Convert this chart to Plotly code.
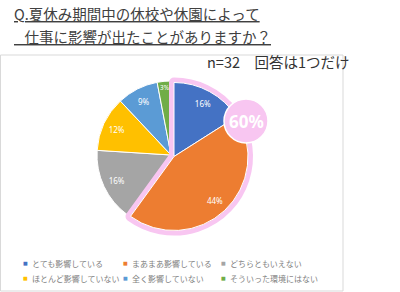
import plotly.graph_objects as go

labels = ["とても影響している", "まあまあ影響している", "どちらともいえない",
          "ほとんど影響していない", "全く影響していない", "そういった環境にはない"]
values = [16, 44, 16, 12, 9, 3]
colors = ["#4472C4", "#ED7D31", "#A5A5A5", "#FFC000", "#5B9BD5", "#70AD47"]
highlight_values = [60, 40]
highlight_label = "60%"
title_lines = ["Q.夏休み期間中の休校や休園によって", "\u2002\u00a0仕事に影響が出たことがありますか？"]
subtitle = "n=32　回答は1つだけ"

W, H = 400, 292
PINK = "#F8C6F1"
CLEAR = "rgba(0,0,0,0)"
N_GROUP = 2

def dom(cx, cy, r):
    return dict(x=[(cx - r) / W, (cx + r) / W], y=[(H - cy - r) / H, (H - cy + r) / H])

base = dom(171, 155, 74)
shifted = dom(174, 156.5, 74)

fig = go.Figure()

# full pie (unshifted)
fig.add_trace(go.Pie(
    labels=labels, values=values, sort=False, direction="clockwise", rotation=0,
    marker=dict(colors=colors, line=dict(color="white", width=1)),
    textinfo="none", domain=base, showlegend=False, hoverinfo="label+value",
))
# pink highlight behind the exploded group
fig.add_trace(go.Pie(
    labels=["highlight", "rest"], values=highlight_values, sort=False, direction="clockwise",
    marker=dict(colors=[PINK, CLEAR], line=dict(color=[PINK, CLEAR], width=[10, 0])),
    textinfo="none", domain=shifted, showlegend=False, hoverinfo="skip",
))
# exploded group (first two slices) on top
grp_colors = [c if i < N_GROUP else CLEAR for i, c in enumerate(colors)]
grp_lines = ["white" if i < N_GROUP else CLEAR for i in range(len(colors))]
fig.add_trace(go.Pie(
    labels=["g" + str(i) for i in range(len(labels))], values=values, sort=False,
    direction="clockwise",
    marker=dict(colors=grp_colors, line=dict(color=grp_lines, width=1)),
    textinfo="none", domain=shifted, showlegend=False, hoverinfo="skip",
))
# percentage labels placed in an outer ring (hole) so they sit near the rim
for k, (part, d) in enumerate(((range(0, N_GROUP), shifted), (range(N_GROUP, len(values)), base))):
    texts = [f"{v}%" if i in part else "" for i, v in enumerate(values)]
    fig.add_trace(go.Pie(
        labels=[f"t{k}_{i}" for i in range(len(labels))], values=values, sort=False,
        direction="clockwise", hole=0.62, marker=dict(colors=[CLEAR] * len(values)),
        text=texts, textinfo="text", textposition="inside", insidetextorientation="horizontal",
        insidetextfont=dict(size=8, color="white", family="Noto Sans"),
        domain=d, showlegend=False, hoverinfo="skip",
    ))

# legend built as text entries (3 columns x 2 rows)
legend_cols = [25, 125, 223]
legend_rows = [263, 278]
annotations = []
for i, (lab, col) in enumerate(zip(labels, colors)):
    lx = legend_cols[i % 3]
    ly = legend_rows[i // 3]
    annotations.append(dict(text="■", x=lx / W, y=1 - ly / H, xref="paper", yref="paper",
                            xanchor="center", yanchor="middle", showarrow=False,
                            font=dict(size=5, color=col, family="DejaVu Sans")))
    annotations.append(dict(text=lab, x=(lx + 5) / W, y=1 - ly / H, xref="paper", yref="paper",
                            xanchor="left", yanchor="middle", showarrow=False,
                            font=dict(size=8, color="#7F7F7F", family="Noto Sans CJK JP")))

annotations += [
    dict(text="<u>" + title_lines[0] + "</u>", x=12 / W, y=1 - 14 / H, xref="paper", yref="paper",
         xanchor="left", yanchor="middle", showarrow=False,
         font=dict(size=14.5, color="#404040", family="Noto Sans CJK JP")),
    dict(text="<u>" + title_lines[1] + "</u>", x=12 / W, y=1 - 37 / H, xref="paper", yref="paper",
         xanchor="left", yanchor="middle", showarrow=False,
         font=dict(size=14.5, color="#404040", family="Noto Sans CJK JP")),
    dict(text=subtitle, x=205 / W, y=1 - 62 / H, xref="paper", yref="paper",
         xanchor="left", yanchor="middle", showarrow=False,
         font=dict(size=14.5, color="#333333", family="Noto Sans CJK JP")),
    dict(text="<b>" + highlight_label + "</b>", x=246 / W, y=1 - 121 / H, xref="paper", yref="paper",
         xanchor="center", yanchor="middle", showarrow=False,
         font=dict(size=17, color="white", family="Noto Sans")),
]

fig.update_layout(
    width=W, height=H, margin=dict(l=0, r=0, t=0, b=0),
    paper_bgcolor="white", plot_bgcolor="white",
    showlegend=False,
    font=dict(family="Noto Sans CJK JP"),
    shapes=[
        dict(type="rect", xref="paper", yref="paper", x0=0.5 / W, x1=343 / W,
             y0=1 / H, y1=(H - 55) / H, line=dict(color="#D9D9D9", width=1), layer="below"),
        dict(type="circle", xref="paper", yref="paper",
             x0=(246 - 22) / W, x1=(246 + 22) / W, y0=(H - 121 - 22) / H, y1=(H - 121 + 22) / H,
             fillcolor=PINK, line=dict(color="white", width=1.5)),
    ],
    annotations=annotations,
)

fig.write_html("out.html")
